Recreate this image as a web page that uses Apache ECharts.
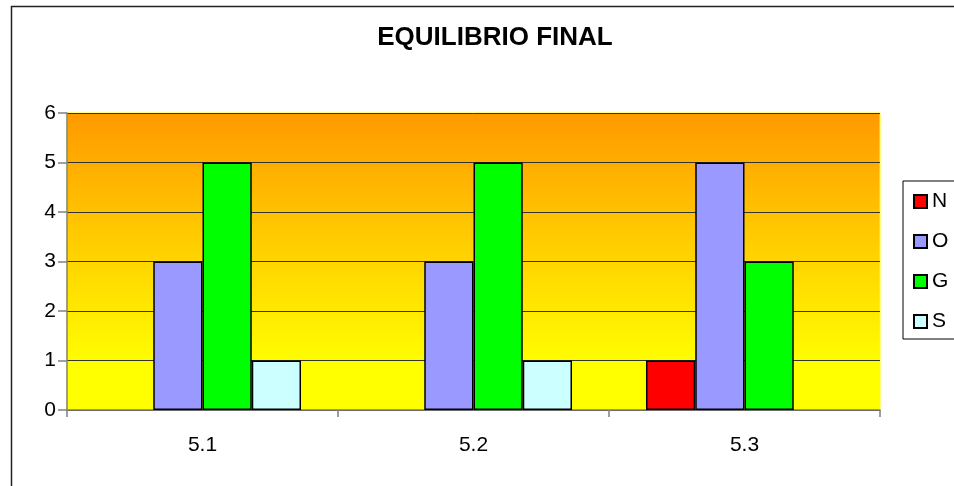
<!DOCTYPE html>
<html>
<head>
<meta charset="utf-8">
<script src="https://cdn.jsdelivr.net/npm/echarts@6/dist/echarts.min.js"></script>
<style>html,body{margin:0;padding:0;background:#fff;}#c{width:954px;height:486px;}</style>
</head>
<body>
<div id="c"></div>
<script>
const categories = ['5.1', '5.2', '5.3'];
const seriesNames = ['N', 'O', 'G', 'S'];
const valuesN = [0, 0, 1];
const valuesO = [3, 3, 5];
const valuesG = [5, 5, 3];
const valuesS = [1, 1, 0];
const seriesColors = ['#FF0000', '#9999FF', '#00FF00', '#CCFFFF'];
const yTicks = [0, 1, 2, 3, 4, 5, 6];

const allValues = [valuesN, valuesO, valuesG, valuesS];
const FONT = 'Liberation Sans, Arial, sans-serif';

const chart = echarts.init(document.getElementById('c'), null, {renderer: 'canvas'});
chart.setOption({
  animation: false,
  backgroundColor: '#fff',
  title: {
    text: 'EQUILIBRIO FINAL',
    left: 490, textAlign: 'center', top: 20,
    textStyle: {fontFamily: FONT, fontSize: 26, fontWeight: 'bold', color: '#000'}
  },
  graphic: [{
    type: 'rect', left: 9, top: 4, z: 0,
    shape: {width: 1000, height: 600},
    style: {fill: 'none', stroke: '#222', lineWidth: 1.5}
  }],
  legend: {
    orient: 'vertical', left: 903, top: 181,
    padding: [10, 80, 7, 10], itemGap: 19,
    itemWidth: 13, itemHeight: 13,
    borderColor: '#000', borderWidth: 1,
    icon: 'rect',
    textStyle: {fontFamily: FONT, fontSize: 21, color: '#000', padding: [0, 0, 0, 0]},
    data: seriesNames
  },
  grid: {
    left: 67, right: 74, top: 113, bottom: 76,
    show: true,
    borderColor: '#FFFF00', borderWidth: 1,
    backgroundColor: new echarts.graphic.LinearGradient(0, 0, 0, 1, [
      {offset: 0, color: '#FF9900'},
      {offset: 0.85, color: '#FFFF00'},
      {offset: 1, color: '#FFFF00'}
    ])
  },
  xAxis: {
    type: 'category', data: categories,
    axisLine: {lineStyle: {color: '#808080', width: 1.5}},
    axisTick: {show: true, length: 7, lineStyle: {color: '#808080', width: 1.5}},
    axisLabel: {fontFamily: FONT, fontSize: 21, color: '#000', margin: 25}
  },
  yAxis: {
    type: 'value', min: 0, max: 6, interval: 1,
    axisLine: {show: true, lineStyle: {color: '#808080', width: 1.5}},
    axisTick: {show: true, length: 9, lineStyle: {color: '#808080', width: 1.5}},
    axisLabel: {fontFamily: FONT, fontSize: 21, color: '#000', margin: 11,
      formatter: v => yTicks.includes(v) ? String(v) : ''},
    splitLine: {show: true, lineStyle: {color: '#333', width: 1}}
  },
  series: seriesNames.map((name, i) => ({
    name: name, type: 'bar',
    data: allValues[i].map(v => v === 0 ? {value: v, itemStyle: {borderWidth: 0, opacity: 0}} : v),
    barGap: '0%', barCategoryGap: '27.3%',
    itemStyle: {color: seriesColors[i], borderColor: '#000', borderWidth: 1.5}
  }))
});
</script>
</body>
</html>
